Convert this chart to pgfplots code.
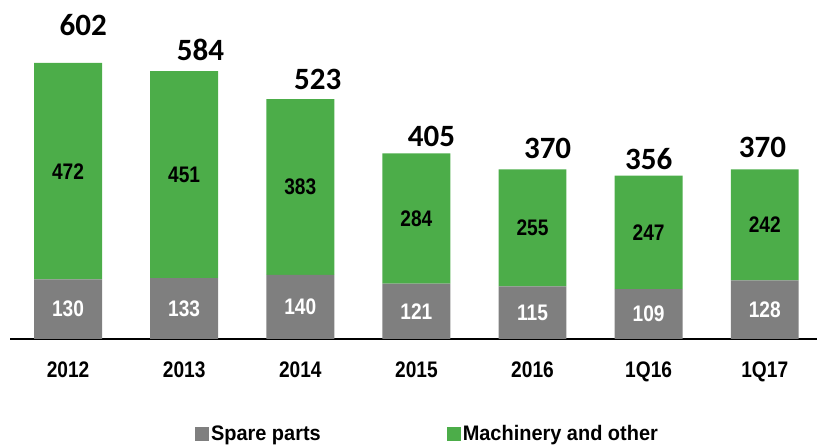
\documentclass[border=0pt]{standalone}
\usepackage{fontspec}
\setmainfont{Liberation Sans}
\newfontfamily\nb{Liberation Sans}[FakeStretch=0.85]
\newfontfamily\nbl{Liberation Sans}[FakeStretch=0.95]
\newfontfamily\carl{Carlito}
\usepackage{pgfplots}
\pgfplotsset{compat=1.18}
\definecolor{cgreen}{RGB}{76,173,73}
\definecolor{cgray}{RGB}{127,127,127}
\pgfplotsset{sqlegend/.style={legend image code/.code={\fill[##1] (0pt,-7pt) rectangle (14pt,7pt);}}}
\newcommand\seg{\nb\bfseries\fontsize{22.5}{25}\selectfont}
\newcommand\tot{\carl\bfseries\fontsize{31}{36}\selectfont}
\tikzset{wl/.style={font=\seg, text=white}, bl/.style={font=\seg, text=black}, tl/.style={font=\tot, inner sep=0pt}}
\begin{document}
\begin{tikzpicture}
\path[use as bounding box] (0,0) rectangle (817pt,446pt);
\begin{axis}[
  at={(10pt,107pt)}, anchor=south west,
  scale only axis, width=807pt, height=321pt,
  xmin=-0.5, xmax=6.45, ymin=0, ymax=700,
  ybar stacked, bar width=0.585,
  axis x line*=bottom, axis y line=none,
  x axis line style={-, line width=1.3pt, black},
  xtick=data, xticklabels={2012,2013,2014,2015,2016,1Q16,1Q17},
  major tick length=0pt,
  xticklabel style={font=\seg, yshift=-19pt},
  clip=false,
  legend columns=2,
  legend style={at={(0.229,-0.296)}, anchor=west, draw=none, fill=none,
    font=\nbl\bfseries\fontsize{21}{24}\selectfont,
    /tikz/every even column/.append style={column sep=124pt},
    inner sep=0pt},
]
\addplot[fill=cgray, draw=none, sqlegend]
  coordinates {(0,130) (1,133) (2,140) (3,121) (4,115) (5,109) (6,128)};
\addlegendentry{Spare parts}
\addplot[fill=cgreen, draw=none, sqlegend]
  coordinates {(0,472) (1,451) (2,383) (3,284) (4,255) (5,247) (6,242)};
\addlegendentry{Machinery and other}
% segment label anchors
\coordinate (g0) at (axis cs:0,65);
\coordinate (g1) at (axis cs:1,66.5);
\coordinate (g2) at (axis cs:2,70);
\coordinate (g3) at (axis cs:3,60.5);
\coordinate (g4) at (axis cs:4,57.5);
\coordinate (g5) at (axis cs:5,54.5);
\coordinate (g6) at (axis cs:6,64);
\coordinate (m0) at (axis cs:0,366);
\coordinate (m1) at (axis cs:1,358.5);
\coordinate (m2) at (axis cs:2,331.5);
\coordinate (m3) at (axis cs:3,263);
\coordinate (m4) at (axis cs:4,242.5);
\coordinate (m5) at (axis cs:5,232.5);
\coordinate (m6) at (axis cs:6,249);
% totals
\node[tl] at (axis cs:0.13,685) {602};
\node[tl] at (axis cs:1.14,631) {584};
\node[tl] at (axis cs:2.15,565) {523};
\node[tl] at (axis cs:3.13,442) {405};
\node[tl] at (axis cs:4.13,416) {370};
\node[tl] at (axis cs:5.0,392) {356};
\node[tl] at (axis cs:5.98,418) {370};
\end{axis}
\node[wl] at (g0) {130};
\node[wl] at (g1) {133};
\node[wl] at (g2) {140};
\node[wl] at (g3) {121};
\node[wl] at (g4) {115};
\node[wl] at (g5) {109};
\node[wl] at (g6) {128};
\node[bl] at (m0) {472};
\node[bl] at (m1) {451};
\node[bl] at (m2) {383};
\node[bl] at (m3) {284};
\node[bl] at (m4) {255};
\node[bl] at (m5) {247};
\node[bl] at (m6) {242};
\end{tikzpicture}
\end{document}
